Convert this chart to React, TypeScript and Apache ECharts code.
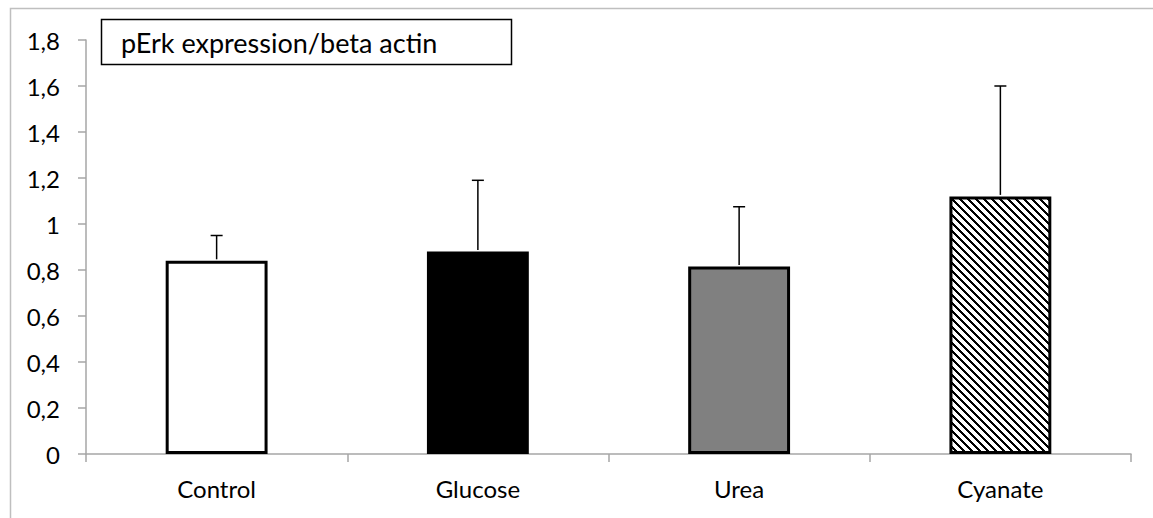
import React, { useEffect, useRef } from "react";
import * as echarts from "echarts";

// Group names along the x axis
const categories = ["Control", "Glucose", "Urea", "Cyanate"];
// Mean pErk / beta actin ratio per group
const means = [0.84, 0.88, 0.815, 1.12];
// Upper end of each error bar (mean + SD)
const upperValues = [0.95, 1.19, 1.075, 1.6];
// Y axis range and step
const yMin = 0;
const yMax = 1.8;
const yStep = 0.2;

const legendText = "pErk expression/beta actin";
const FONT = "Lato, 'Open Sans', sans-serif";

// Downward diagonal hatch tile for the Cyanate bar
function makeHatchTile(): HTMLCanvasElement {
  const size = 8;
  const c = document.createElement("canvas");
  c.width = size;
  c.height = size;
  const ctx = c.getContext("2d")!;
  ctx.fillStyle = "#ffffff";
  ctx.fillRect(0, 0, size, size);
  ctx.fillStyle = "#000000";
  for (let y = 0; y < size; y++) {
    for (let x = 0; x < size; x++) {
      const d = (((x - y) % size) + size) % size;
      if (d < 3) ctx.fillRect(x, y, 1, 1);
    }
  }
  return c;
}

export default function App() {
  const ref = useRef<HTMLDivElement>(null);

  useEffect(() => {
    if (!ref.current) return;
    const chart = echarts.init(ref.current, undefined, { renderer: "svg" });
    const hatch = makeHatchTile();

    const fills: any[] = [
      "#ffffff",
      "#000000",
      "#808080",
      { image: hatch, repeat: "repeat" },
    ];

    chart.setOption({
      animation: false,
      backgroundColor: "#ffffff",
      grid: { left: 86, right: 22, top: 40, bottom: 64, containLabel: false },
      xAxis: {
        type: "category",
        data: categories,
        boundaryGap: true,
        axisLine: { show: true, lineStyle: { color: "#a6a6a6", width: 1.5 } },
        axisTick: { show: true, inside: false, length: 8, lineStyle: { color: "#a6a6a6", width: 1.5 } },
        axisLabel: { color: "#000", fontFamily: FONT, fontSize: 24, margin: 22 },
        splitLine: { show: false },
      },
      yAxis: {
        type: "value",
        min: yMin,
        max: yMax,
        interval: yStep,
        axisLine: { show: true, lineStyle: { color: "#a6a6a6", width: 1.5 } },
        axisTick: { show: true, inside: false, length: 8, lineStyle: { color: "#a6a6a6", width: 1.5 } },
        axisLabel: {
          color: "#000",
          fontFamily: FONT,
          fontSize: 24,
          margin: 26,
          formatter: (v: number) => String(Math.round(v * 10) / 10).replace(".", ","),
        },
        splitLine: { show: false },
      },
      graphic: [
        {
          type: "rect",
          silent: true,
          z: -10,
          shape: { x: 10.5, y: 8.5, width: 1200, height: 600 },
          style: { fill: "none", stroke: "#bfbfbf", lineWidth: 1.5 },
        },
        {
          type: "rect",
          z: 100,
          shape: { x: 101.5, y: 19.5, width: 410, height: 45 },
          style: { fill: "#ffffff", stroke: "#000000", lineWidth: 1.5 },
        },
        {
          type: "text",
          z: 101,
          x: 121,
          y: 42,
          style: {
            text: legendText,
            fontFamily: FONT,
            fontSize: 27,
            fill: "#000",
            verticalAlign: "middle",
            align: "left",
          },
        },
      ],
      series: [
        {
          type: "bar",
          barWidth: "39%",
          data: means.map((v, i) => ({
            value: v,
            itemStyle: { color: fills[i], borderColor: "#000", borderWidth: 3 },
          })),
          z: 2,
        },
        {
          type: "custom",
          z: 5,
          data: categories.map((_, i) => [i, means[i], upperValues[i]]),
          encode: { x: 0, y: 2 },
          renderItem: (_params: any, api: any) => {
            const idx = api.value(0);
            const top = api.coord([idx, api.value(2)]);
            const base = api.coord([idx, api.value(1)]);
            const half = 6;
            return {
              type: "group",
              children: [
                {
                  type: "line",
                  shape: { x1: top[0], y1: top[1], x2: base[0], y2: base[1] - 1.5 },
                  style: { stroke: "#000", lineWidth: 1.5 },
                },
                {
                  type: "line",
                  shape: { x1: top[0] - half, y1: top[1], x2: top[0] + half, y2: top[1] },
                  style: { stroke: "#000", lineWidth: 1.5 },
                },
              ],
            };
          },
        },
      ],
    });

    return () => chart.dispose();
  }, []);

  return (
    <div
      ref={ref}
      style={{ position: "absolute", left: 0, top: 0, width: 1153, height: 518, background: "#fff" }}
    />
  );
}
